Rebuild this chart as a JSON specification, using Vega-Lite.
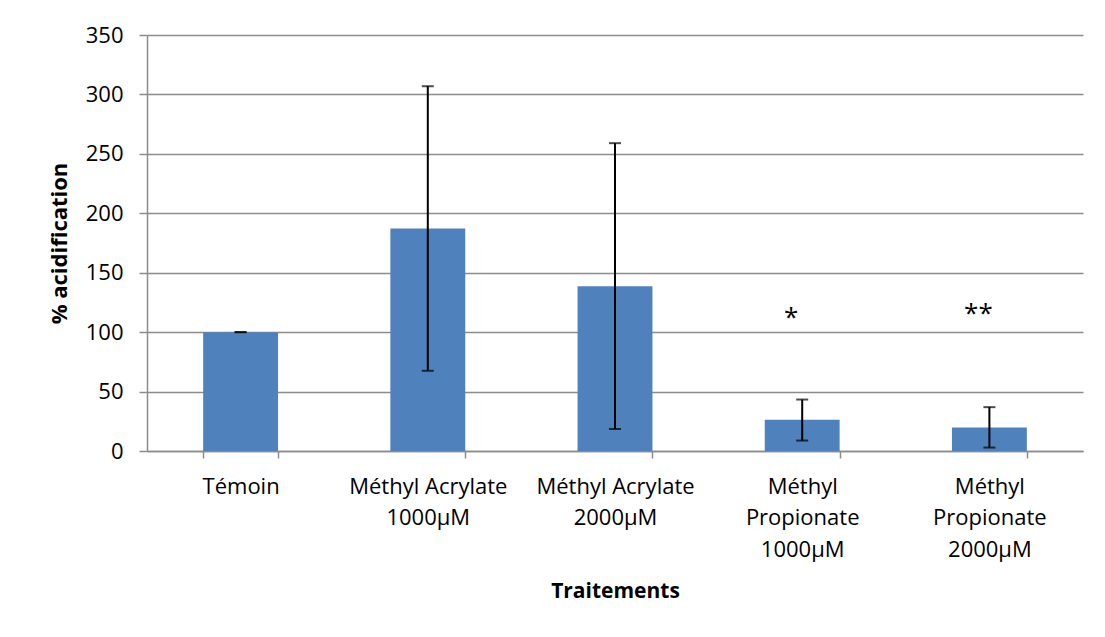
{
  "$schema": "https://vega.github.io/schema/vega-lite/v6.json",
  "width": 936,
  "height": 416,
  "autosize": {"type": "none"},
  "padding": {"left": 147, "top": 35, "right": 22, "bottom": 186},
  "background": "white",
  "config": {
    "font": "Open Sans",
    "view": {"stroke": null},
    "axis": {"labelFont": "Open Sans", "titleFont": "Open Sans", "labelColor": "black", "titleColor": "black"}
  },
  "data": {
    "values": [
      {"traitement": "Témoin", "value": 100, "lo": 100, "hi": 100, "sig": "", "sig_y": null},
      {"traitement": "Méthyl Acrylate 1000µM", "value": 187.2, "lo": 67.5, "hi": 306.9, "sig": "", "sig_y": null},
      {"traitement": "Méthyl Acrylate 2000µM", "value": 138.7, "lo": 18.5, "hi": 259, "sig": "", "sig_y": null},
      {"traitement": "Méthyl Propionate 1000µM", "value": 26.2, "lo": 8.8, "hi": 43.3, "sig": "*", "sig_y": 114.5},
      {"traitement": "Méthyl Propionate 2000µM", "value": 19.8, "lo": 2.9, "hi": 36.9, "sig": "**", "sig_y": 117.5}
    ]
  },
  "encoding": {
    "x": {
      "field": "traitement",
      "type": "nominal",
      "sort": null,
      "scale": {"paddingInner": 0.6, "paddingOuter": 0.3},
      "axis": {
        "title": "Traitements",
        "titleFontSize": 21,
        "titleFontWeight": "bold",
        "titlePadding": 20,
        "labelAngle": 0,
        "labelFontSize": 22,
        "labelLineHeight": 31.5,
        "labelPadding": 18,
        "labelExpr": "indexof(datum.label,'Propionate')>=0 ? split(datum.label,' ') : (indexof(datum.label,'Acrylate')>=0 ? [slice(datum.label,0,15), slice(datum.label,16)] : datum.label)",
        "tickBand": "extent",
        "tickSize": 7,
        "tickColor": "#8c8c8c",
        "tickWidth": 1.5,
        "domainColor": "#8c8c8c",
        "domainWidth": 1.5,
        "grid": false
      }
    }
  },
  "layer": [
    {
      "mark": {"type": "bar", "color": "#4f81bd"},
      "encoding": {
        "y": {
          "field": "value",
          "type": "quantitative",
          "scale": {"domain": [0, 350]},
          "axis": {
            "title": "% acidification",
            "titleFontSize": 22,
            "titleFontWeight": "bold",
            "titlePadding": 14,
            "values": [0, 50, 100, 150, 200, 250, 300, 350],
            "labelFontSize": 22,
            "labelPadding": 16,
            "tickSize": 8,
            "tickColor": "#8c8c8c",
            "tickWidth": 1.5,
            "domainColor": "#8c8c8c",
            "domainWidth": 1.5,
            "gridColor": "#8c8c8c",
            "gridWidth": 1.5
          }
        }
      }
    },
    {
      "mark": {"type": "rule", "color": "black", "strokeWidth": 2},
      "encoding": {
        "y": {"field": "lo", "type": "quantitative"},
        "y2": {"field": "hi"}
      }
    },
    {
      "mark": {"type": "tick", "color": "black", "thickness": 2, "size": 12, "orient": "horizontal"},
      "encoding": {"y": {"field": "lo", "type": "quantitative"}}
    },
    {
      "mark": {"type": "tick", "color": "black", "thickness": 2, "size": 12, "orient": "horizontal"},
      "encoding": {"y": {"field": "hi", "type": "quantitative"}}
    },
    {
      "transform": [{"filter": "datum.sig != ''"}],
      "mark": {"type": "text", "font": "Open Sans", "fontSize": 26, "color": "black", "dx": -11, "baseline": "middle", "dy": 3, "letterSpacing": 4},
      "encoding": {
        "y": {"field": "sig_y", "type": "quantitative"},
        "text": {"field": "sig"}
      }
    }
  ]
}
